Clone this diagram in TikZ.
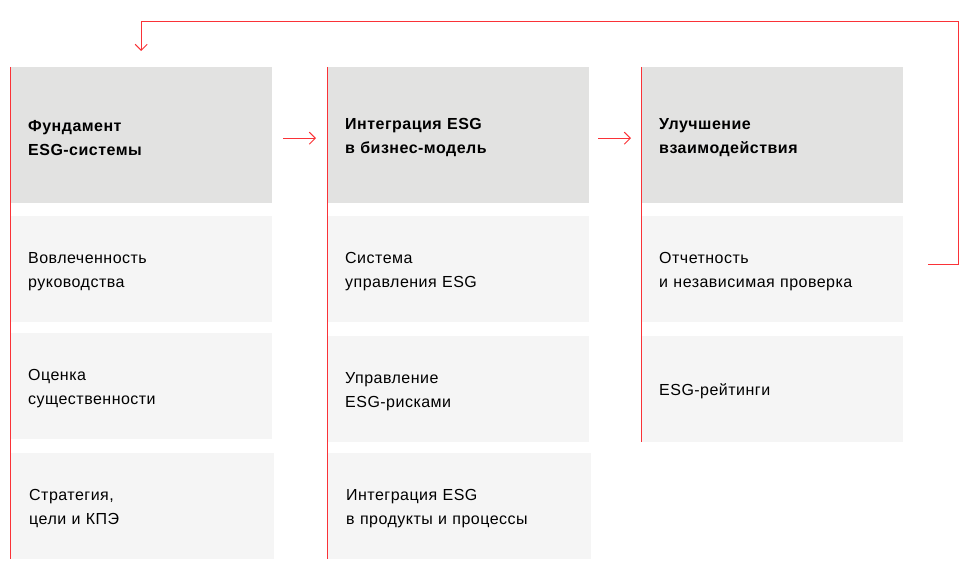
\documentclass[tikz,border=0pt]{standalone}
\usepackage{fontspec}
\setmainfont[LetterSpace=3]{Liberation Sans}
\usetikzlibrary{arrows.meta}
\definecolor{esgred}{RGB}{250,50,55}
\definecolor{hdrgray}{RGB}{226,226,225}
\definecolor{boxgray}{RGB}{245,245,245}
\begin{document}
\begin{tikzpicture}[x=1pt,y=-1pt]
\tikzset{hdr/.style = {anchor=north west,fill=hdrgray,minimum width=262pt,minimum height=136pt,text width=226pt,inner xsep=18pt,inner ysep=0pt,align=left,font=\fontsize{16}{24}\selectfont\bfseries,execute at begin node={\rule{0pt}{16.5pt}}}}
\tikzset{item/.style = {hdr,fill=boxgray,minimum height=106pt,font=\fontsize{16}{24}\selectfont}}
\tikzset{edge/.style = {draw=esgred,line width=1pt,-{Straight Barb[length=6pt,width=12pt]}}}
\tikzset{rail/.style = {draw=esgred,line width=1.2pt}}
\useasboundingbox (0,0) rectangle (975,569);
\node[hdr] (c1h) at (10,67) {Фундамент\\ESG-системы};
\node[item] (c1a) at (10,216) {Вовлеченность\\руководства};
\node[item] (c1b) at (10,333) {Оценка\\существенности};
\node[item,minimum width=264pt] (c1c) at (10,453) {Стратегия,\\цели и КПЭ};
\node[hdr] (c2h) at (327,67) {Интеграция ESG\\в бизнес-модель};
\node[item] (c2a) at (327,216) {Система\\управления ESG};
\node[item] (c2b) at (327,336) {Управление\\ESG-рисками};
\node[item,minimum width=264pt] (c2c) at (327,453) {Интеграция ESG\\в продукты и процессы};
\node[hdr] (c3h) at (641,67) {Улучшение\\взаимодействия};
\node[item] (c3a) at (641,216) {Отчетность\\и независимая проверка};
\node[item] (c3b) at (641,336) {ESG-рейтинги};
\coordinate (top) at (958,22);

\draw[rail] ([xshift=0.8pt]c1h.north west) -- ([xshift=0.8pt]c1c.south west);
\draw[rail] ([xshift=0.8pt]c2h.north west) -- ([xshift=0.8pt]c2c.south west);
\draw[rail] ([xshift=0.6pt]c3h.north west) -- ([xshift=0.6pt]c3b.south west);
\draw[edge,shorten <=11pt,shorten >=11pt] ([yshift=-3pt]c1h.east) -- ([yshift=-3pt]c2h.west);
\draw[edge,shorten <=9pt,shorten >=10pt] ([yshift=-3pt]c2h.east) -- ([yshift=-3pt]c3h.west);
\draw[edge,shorten >=16pt] ([xshift=25pt,yshift=5pt]c3a.east) -| (top) -| (c1h.north);
\end{tikzpicture}
\end{document}
